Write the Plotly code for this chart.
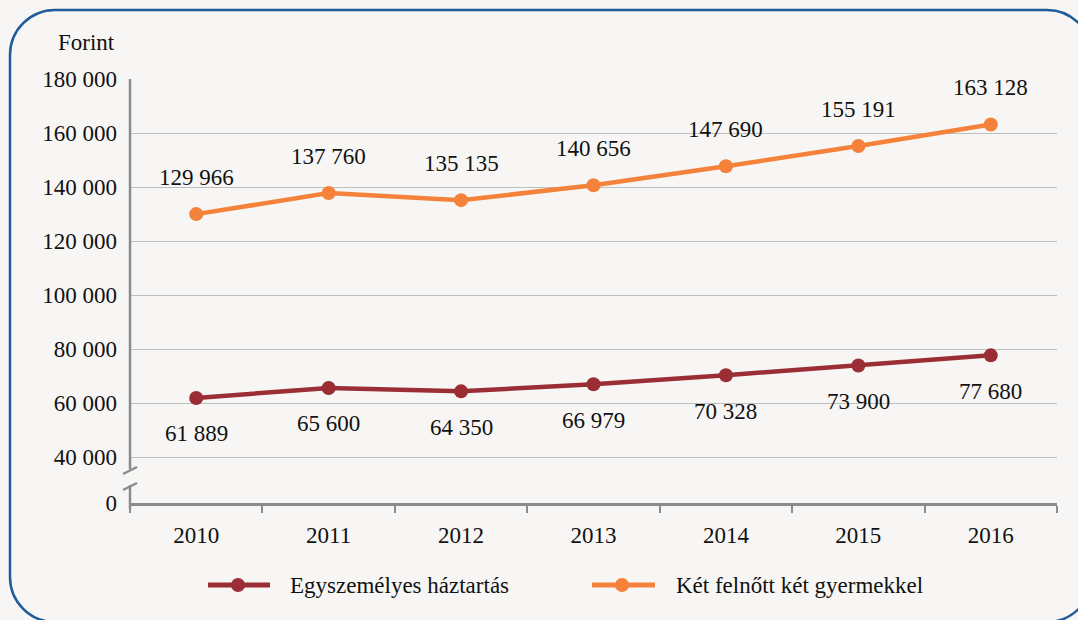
import plotly.graph_objects as go

years = ["2010", "2011", "2012", "2013", "2014", "2015", "2016"]
single = [61889, 65600, 64350, 66979, 70328, 73900, 77680]
family = [129966, 137760, 135135, 140656, 147690, 155191, 163128]
single_name = "Egyszemélyes háztartás"
family_name = "Két felnőtt két gyermekkel"
ytick_vals = [23000, 40000, 60000, 80000, 100000, 120000, 140000, 160000, 180000]
ytick_text = ["0", "40 000", "60 000", "80 000", "100 000", "120 000", "140 000", "160 000", "180 000"]

W, H = 1078, 620
L, R, T, B = 130, 1057, 79, 503
RED = "#9B2D35"
ORANGE = "#F4823B"
BG = "#F7F6F4"
AX = "#8C8C8C"
FONT = "'Liberation Serif', 'DejaVu Serif', serif"
FS = 23


def px(x):
    return (x - L) / (R - L)


def py(y):
    return (B - y) / (B - T)


def fmt(v):
    return f"{v:,}".replace(",", " ")


fig = go.Figure()
fig.add_trace(go.Scatter(x=years, y=single, mode="lines+markers", name=single_name,
                         line=dict(color=RED, width=4.5), marker=dict(size=14, color=RED),
                         hoverinfo="skip"))
fig.add_trace(go.Scatter(x=years, y=family, mode="lines+markers", name=family_name,
                         line=dict(color=ORANGE, width=4.5), marker=dict(size=14, color=ORANGE),
                         hoverinfo="skip"))

tfont = dict(family=FONT, size=FS, color="#111")
ann = []
for i, v in enumerate(family):
    ann.append(dict(x=i, y=v, xref="x", yref="y", text=fmt(v), showarrow=False, yshift=37,
                    yanchor="middle", font=tfont))
for i, v in enumerate(single):
    ann.append(dict(x=i, y=v, xref="x", yref="y", text=fmt(v), showarrow=False, yshift=-36,
                    yanchor="middle", font=tfont))

ann.append(dict(xref="paper", yref="paper", x=px(117), y=py(43), xanchor="right", yanchor="middle",
                text="Forint", showarrow=False, font=tfont))

shapes = []
# y axis line with break
shapes.append(dict(type="line", xref="paper", yref="paper", x0=0, x1=0, y0=py(T), y1=py(469),
                   line=dict(color=AX, width=2.5)))
shapes.append(dict(type="line", xref="paper", yref="paper", x0=0, x1=0, y0=py(485), y1=py(509),
                   line=dict(color=AX, width=2.5)))
for yy in (470, 486):
    shapes.append(dict(type="line", xref="paper", yref="paper", x0=px(123), x1=px(137),
                       y0=py(yy + 4), y1=py(yy - 3), line=dict(color=AX, width=2.5)))

# custom legend
leg_y = py(585)
for (x0, x1, xm, xt, col, name) in [(208, 270, 238, 288, RED, single_name),
                                     (592, 655, 622, 674, ORANGE, family_name)]:
    shapes.append(dict(type="line", xref="paper", yref="paper", x0=px(x0), x1=px(x1),
                       y0=leg_y, y1=leg_y, line=dict(color=col, width=5)))
    shapes.append(dict(type="circle", xref="paper", yref="paper", x0=px(xm - 7), x1=px(xm + 7),
                       y0=py(585 + 7), y1=py(585 - 7), fillcolor=col, line=dict(width=0)))
    ann.append(dict(xref="paper", yref="paper", x=px(xt), y=leg_y, xanchor="left", yanchor="middle",
                    text=name, showarrow=False, font=tfont))

# rounded border
bl, bt, br, bb, r = 10, 10, 1092, 622, 45
k = 0.5523 * r
path = (f"M {px(bl + r)},{py(bt)} L {px(br - r)},{py(bt)} "
        f"C {px(br - r + k)},{py(bt)} {px(br)},{py(bt + r - k)} {px(br)},{py(bt + r)} "
        f"L {px(br)},{py(bb - r)} "
        f"C {px(br)},{py(bb - r + k)} {px(br - r + k)},{py(bb)} {px(br - r)},{py(bb)} "
        f"L {px(bl + r)},{py(bb)} "
        f"C {px(bl + r - k)},{py(bb)} {px(bl)},{py(bb - r + k)} {px(bl)},{py(bb - r)} "
        f"L {px(bl)},{py(bt + r)} "
        f"C {px(bl)},{py(bt + r - k)} {px(bl + r - k)},{py(bt)} {px(bl + r)},{py(bt)} Z")
shapes.append(dict(type="path", xref="paper", yref="paper", path=path,
                   line=dict(color="#1F5C99", width=2.5), layer="below"))

fig.update_layout(
    width=W, height=H,
    margin=dict(l=L, r=W - R, t=T, b=H - B),
    paper_bgcolor=BG, plot_bgcolor=BG,
    showlegend=False,
    font=tfont,
    annotations=ann, shapes=shapes,
    xaxis=dict(type="category", range=[-0.5, 6.5], showgrid=False, showline=True,
               linecolor=AX, linewidth=2.5, ticks="outside", tickson="boundaries",
               ticklen=7, tickwidth=2, tickcolor=AX, ticklabelstandoff=10,
               tickfont=tfont, fixedrange=True),
    yaxis=dict(range=[23000, 180000], tickvals=ytick_vals, ticktext=ytick_text,
               showgrid=True, gridcolor="#BFBFBF", gridwidth=1.2, showline=False,
               zeroline=False, ticks="", ticklabelstandoff=12,
               tickfont=tfont, fixedrange=True),
)

fig.write_html("out.html", config={"displayModeBar": False},
               post_script="document.body.style.margin='0';document.body.style.background='#F7F6F4';")
